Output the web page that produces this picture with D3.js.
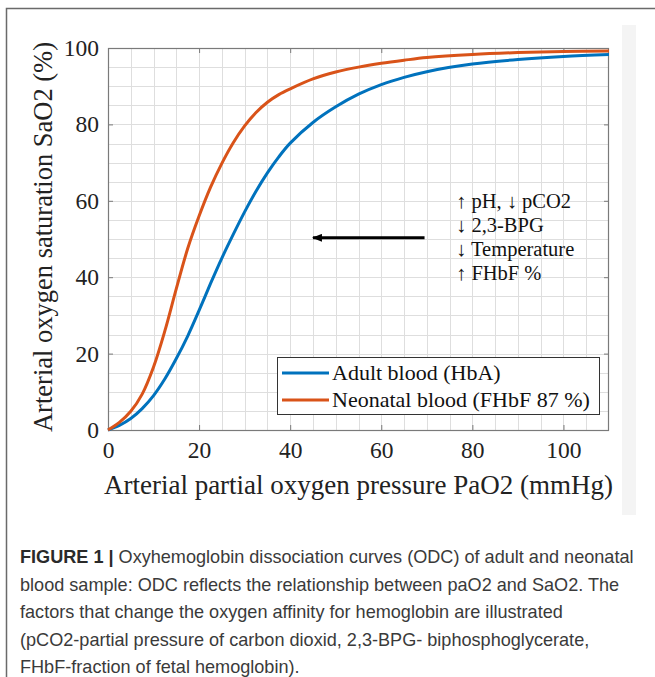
<!DOCTYPE html>
<html>
<head>
<meta charset="utf-8">
<script src="https://cdn.jsdelivr.net/npm/d3@7/dist/d3.min.js"></script>
<style>
  html, body { margin: 0; padding: 0; background: #fff; }
  svg { display: block; }
</style>
</head>
<body>
<div id="chart"></div>
<script>
'use strict';

// values
const pao2 = [0, 2.5, 5, 7.5, 10, 12.5, 15, 17.5, 20, 22.5, 25, 27.5, 30, 32.5, 35, 37.5, 40,
    45, 50, 55, 60, 65, 70, 80, 90, 100, 110];
const adultSat = [0, 1.2, 3.0, 5.6, 9.0, 13.4, 18.7, 24.6, 31.3, 38.3, 45, 51.2, 57.1, 62.5, 67.3, 71.5, 75.1,
    80.5, 84.6, 87.9, 90.4, 92.3, 93.8, 95.8, 97, 97.8, 98.3];
const neonatalSat = [0, 2.0, 4.9, 9.4, 16.5, 26, 37, 47.5, 56, 63.5, 69.8, 75.2, 79.6, 83.1, 85.8, 87.8, 89.3,
    91.9, 93.7, 95.0, 96.0, 96.8, 97.5, 98.3, 98.8, 99.1, 99.2];
const seriesNames = ["Adult blood (HbA)", "Neonatal blood (FHbF 87 %)"];
const xTicks = [0, 20, 40, 60, 80, 100];
const yTicks = [0, 20, 40, 60, 80, 100];
const factorLabels = ["\u2191 pH, \u2193 pCO2", "\u2193 2,3-BPG", "\u2193 Temperature", "\u2191 FHbF %"];
const captionLines = [
    "Oxyhemoglobin dissociation curves (ODC) of adult and neonatal",
    "blood sample: ODC reflects the relationship between paO2 and SaO2. The",
    "factors that change the oxygen affinity for hemoglobin are illustrated",
    "(pCO2-partial pressure of carbon dioxid, 2,3-BPG- biphosphoglycerate,",
    "FHbF-fraction of fetal hemoglobin)."
];

const W = 655, H = 677;
const plotLeft = 108, plotRight = 609, plotTop = 48, plotBottom = 430;
const serif = "'Liberation Serif', 'Times New Roman', serif";
const blue = "#0072BD", orange = "#D95319";

const svg = d3.select("#chart").append("svg")
    .attr("width", W)
    .attr("height", H);

svg.append("rect").attr("width", W).attr("height", H).attr("fill", "#fff");

// page frame and the faint strip on the right
svg.append("path")
    .attr("d", "M6.5," + H + "V8.5H" + W)
    .attr("fill", "none")
    .attr("stroke", "#6a6a6a")
    .attr("stroke-width", 1.5);
svg.append("rect")
    .attr("x", 622).attr("y", 25).attr("width", 14).attr("height", 490)
    .attr("fill", "#f4f4f4");

const x = d3.scaleLinear().domain([0, 110]).range([plotLeft, plotRight]);
const y = d3.scaleLinear().domain([0, 100]).range([plotBottom, plotTop]);

// grid every 5 units
const grid = svg.append("g").attr("stroke", "#dedede").attr("stroke-width", 1);
grid.selectAll(".gx").data(d3.range(5, 110, 5)).enter().append("line")
    .attr("x1", d => Math.round(x(d)) + 0.5).attr("x2", d => Math.round(x(d)) + 0.5)
    .attr("y1", plotTop).attr("y2", plotBottom);
grid.selectAll(".gy").data(d3.range(5, 100, 5)).enter().append("line")
    .attr("y1", d => Math.round(y(d)) + 0.5).attr("y2", d => Math.round(y(d)) + 0.5)
    .attr("x1", plotLeft).attr("x2", plotRight);

// axes: ticks point inward, on all four sides
const tickLen = 5;
const axisColor = "#7a7a7a";

const bottomAxis = svg.append("g")
    .attr("transform", "translate(0," + plotBottom + ")")
    .call(d3.axisBottom(x).tickValues(xTicks).tickSizeInner(-tickLen).tickSizeOuter(0).tickPadding(11));
const topAxis = svg.append("g")
    .attr("transform", "translate(0," + plotTop + ")")
    .call(d3.axisTop(x).tickValues(xTicks).tickSizeInner(-tickLen).tickSizeOuter(0).tickFormat(""));
const leftAxis = svg.append("g")
    .attr("transform", "translate(" + plotLeft + ",0)")
    .call(d3.axisLeft(y).tickValues(yTicks).tickSizeInner(-tickLen).tickSizeOuter(0).tickPadding(9));
const rightAxis = svg.append("g")
    .attr("transform", "translate(" + plotRight + ",0)")
    .call(d3.axisRight(y).tickValues(yTicks).tickSizeInner(-tickLen).tickSizeOuter(0).tickFormat(""));

[bottomAxis, topAxis, leftAxis, rightAxis].forEach(g => {
    g.select(".domain").remove();
    g.selectAll(".tick line").attr("stroke", axisColor);
    g.selectAll("text")
        .attr("fill", "#222")
        .style("font-family", serif)
        .style("font-size", "23.5px");
});
bottomAxis.selectAll("text").attr("dy", "0.71em");

svg.append("rect")
    .attr("x", plotLeft + 0.5).attr("y", plotTop + 0.5)
    .attr("width", plotRight - plotLeft - 1).attr("height", plotBottom - plotTop)
    .attr("fill", "none")
    .attr("stroke", axisColor)
    .attr("stroke-width", 1.2);

// axis labels
svg.append("text")
    .attr("x", (plotLeft + plotRight) / 2)
    .attr("y", 494)
    .attr("text-anchor", "middle")
    .style("font-family", serif)
    .style("font-size", "27px")
    .attr("fill", "#222")
    .text("Arterial partial oxygen pressure PaO2 (mmHg)");

svg.append("text")
    .attr("transform", "translate(52," + 237 + ") rotate(-90)")
    .attr("text-anchor", "middle")
    .style("font-family", serif)
    .style("font-size", "26.5px")
    .attr("fill", "#222")
    .text("Arterial oxygen saturation SaO2 (%)");

// curves
const line = d3.line()
    .x(d => x(d[0]))
    .y(d => y(d[1]))
    .curve(d3.curveCatmullRom.alpha(0.5));

const series = [
    { name: seriesNames[0], color: blue, values: adultSat },
    { name: seriesNames[1], color: orange, values: neonatalSat }
];

svg.selectAll(".curve").data(series).enter().append("path")
    .attr("class", "curve")
    .attr("d", s => line(pao2.map((p, i) => [p, s.values[i]])))
    .attr("fill", "none")
    .attr("stroke", s => s.color)
    .attr("stroke-width", 3);

// arrow pointing left and factor list
svg.append("defs").append("marker")
    .attr("id", "head")
    .attr("viewBox", "0 0 10 8")
    .attr("refX", 9).attr("refY", 4)
    .attr("markerWidth", 10).attr("markerHeight", 8)
    .attr("markerUnits", "userSpaceOnUse")
    .attr("orient", "auto")
    .append("path")
    .attr("d", "M0,0L10,4L0,8Z")
    .attr("fill", "#000");

svg.append("line")
    .attr("x1", x(69.5)).attr("x2", x(45))
    .attr("y1", y(50.3)).attr("y2", y(50.3))
    .attr("stroke", "#000")
    .attr("stroke-width", 3)
    .attr("marker-end", "url(#head)");

svg.append("g").selectAll("text").data(factorLabels).enter().append("text")
    .attr("x", 456)
    .attr("y", (d, i) => 208 + i * 24)
    .style("font-family", serif)
    .style("font-size", "20.5px")
    .attr("fill", "#111")
    .text(d => d);

// legend
const legend = svg.append("g").attr("transform", "translate(277,357)");
legend.append("rect")
    .attr("x", 0.5).attr("y", 0.5).attr("width", 322).attr("height", 57)
    .attr("fill", "#fff")
    .attr("stroke", "#333")
    .attr("stroke-width", 1);
const rows = legend.selectAll(".row").data(series).enter().append("g")
    .attr("transform", (d, i) => "translate(0," + (16 + i * 27) + ")");
rows.append("line")
    .attr("x1", 5).attr("x2", 52)
    .attr("stroke", d => d.color)
    .attr("stroke-width", 3);
rows.append("text")
    .attr("x", 55)
    .attr("dy", "0.34em")
    .style("font-family", serif)
    .style("font-size", "22px")
    .attr("fill", "#111")
    .text(d => d.name);

// caption
const caption = svg.append("g")
    .style("font-family", "'Liberation Sans', Arial, sans-serif")
    .style("font-size", "18.1px")
    .attr("fill", "#3a3a3a");
caption.selectAll("text").data(captionLines).enter().append("text")
    .attr("x", 20)
    .attr("y", (d, i) => 563 + i * 27.5)
    .each(function (d, i) {
        const t = d3.select(this);
        if (i === 0) {
            t.append("tspan").attr("font-weight", "bold").attr("fill", "#2a2a2a").text("FIGURE 1 | ");
        }
        t.append("tspan").text(d);
    });
</script>
</body>
</html>
